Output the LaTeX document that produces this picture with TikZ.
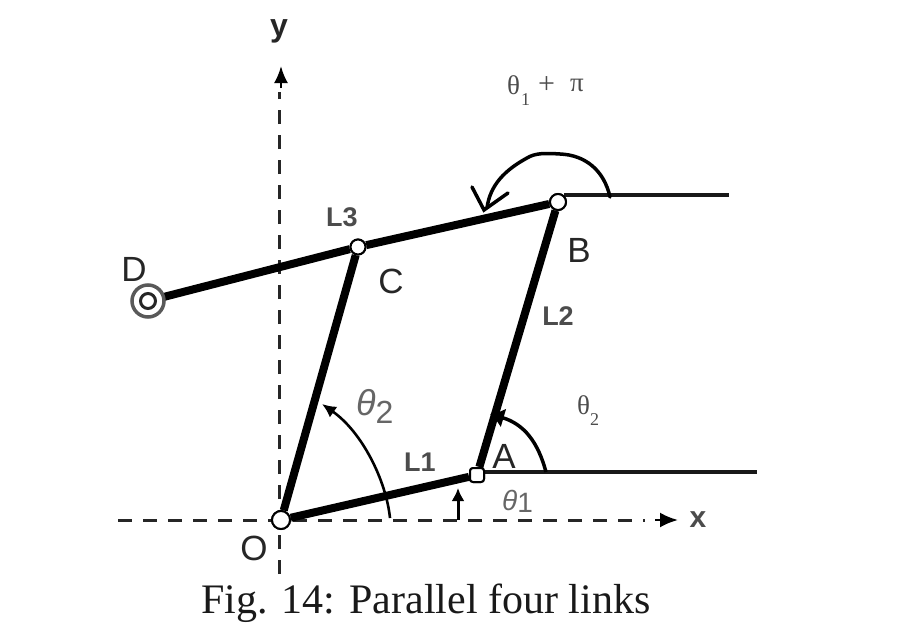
\documentclass[tikz,border=0pt]{standalone}
\usepackage{fontspec}
\setmainfont{Liberation Sans}
\newfontfamily\serifcap{Liberation Serif}
\usetikzlibrary{arrows.meta}
\tikzset{
  pin/.style={circle,draw=black,fill=white,line width=2pt,minimum size=11pt,inner sep=0pt},
  link/.style={line width=8pt,draw=black},
  axis/.style={line width=3pt,draw=black!85,dash pattern=on 14pt off 11pt},
  refline/.style={line width=3.5pt,draw=black!90},
  arc line/.style={line width=2.6pt,draw=black},
  lab/.style={inner sep=0pt,text=black!85,font=\fontsize{35}{37}\selectfont},
  smalllab/.style={inner sep=0pt,text=black!70,font=\fontsize{27}{29}\selectfont\bfseries},
  anglelab/.style={inner sep=0pt,text=black!60,font=\fontsize{36}{38}\selectfont\itshape},
  greek/.style={inner sep=0pt,text=black!70,font=\serifcap\fontsize{27}{29}\selectfont},
  greeksub/.style={inner sep=0pt,text=black!70,font=\serifcap\fontsize{18}{20}\selectfont},
}
\begin{document}
\begin{tikzpicture}[x=1pt,y=-1pt]
\useasboundingbox (0,0) rectangle (911,632);
% end points of the axes and reference lines
\coordinate (ytop) at (281,66);
\coordinate (ybot) at (279,574);
\coordinate (xleft) at (118,520);
\coordinate (xright) at (678,520);
\coordinate (Aend) at (757,472);
\coordinate (Bend) at (729,195);
% joints
\node[pin,minimum size=18pt] (O) at (281,520) {};
\node[pin,rectangle,rounded corners=3pt,minimum size=14pt] (A) at (477,475) {};
\node[pin,minimum size=16pt] (B) at (558,202) {};
\node[pin,minimum size=15pt] (C) at (358,247) {};
\node[circle,draw=black!70,fill=white,line width=3pt,minimum size=30pt,inner sep=0pt] (D) at (148,301) {};
% axes
\draw[axis] (ybot) -- (279,92);
\draw[axis] (xleft) -- (645,520);
\draw[line width=2.5pt,-{Latex[length=17pt,width=14pt]}] (281,88) -- (ytop);
\draw[line width=2.5pt,-{Latex[length=18pt,width=15pt]}] (655,520) -- (xright);
% reference lines
\draw[refline] (A.east |- Aend) -- (Aend);
\draw[refline] (B.north east |- Bend) -- (Bend);
% links
\draw[link] (O) -- (A);
\draw[link] (O) -- (C);
\draw[link] (A) -- (B);
\draw[link] (D) -- (C);
\draw[link] (C) -- (B);
% redraw joints above the links
\node[pin,minimum size=18pt] at (O) {};
\node[pin,rectangle,rounded corners=3pt,minimum size=14pt] at (A) {};
\node[pin,minimum size=16pt] at (B) {};
\node[pin,minimum size=15pt] at (C) {};
\node[circle,draw=black!65,fill=white,line width=3.5pt,minimum size=32pt,inner sep=0pt] at (D) {};
\node[circle,draw=black!85,fill=white,line width=3pt,minimum size=15pt,inner sep=0pt] at (D) {};
% angle arcs
\draw[arc line,-{Latex[length=14pt,width=13pt]}] (390,518) .. controls (386,480) and (362,432) .. (322,404);
\draw[line width=3pt,-{Latex[length=13pt,width=13pt]}] (458,520) -- (458,488);
\draw[line width=3.5pt,-{Latex[length=14pt,width=20pt]}] (546,472) .. controls (538,442) and (524,424) .. (490,414);
\draw[line width=3.5pt,line cap=round] (610,197) .. controls (604,170) and (585,155) .. (560,154) .. controls (545,153) and (535,153) .. (527,158) .. controls (505,170) and (490,185) .. (487,208);
\draw[line width=3.5pt,line cap=round] (472,187) -- (484,210) -- (508,193);
% labels
\node[lab] (ly) at (279,31) {\fontsize{32}{34}\selectfont\bfseries y};
\node[smalllab] (lx) at (698,520) {\fontsize{30}{32}\selectfont x};
\node[lab] (lO) at (254,548) {O};
\node[lab] (lA) at (504,456) {A};
\node[lab] (lB) at (579,250) {B};
\node[lab] (lC) at (391,281) {C};
\node[lab] (lD) at (134,269) {D};
\node[smalllab] (lL1) at (420,462) {L1};
\node[smalllab] (lL2) at (558,316) {L2};
\node[smalllab] (lL3) at (342,217) {L3};
\node[anglelab,anchor=west] (t2a) at (356,406) {θ\raisebox{-8pt}{\upshape\fontsize{32}{34}\selectfont 2}};
\node[anglelab,anchor=west,font=\fontsize{28}{30}\selectfont\itshape] (t1a) at (502,501) {θ\raisebox{-2pt}{\upshape 1}};
\node[greek,anchor=west] (t1) at (507,85) {θ};
\node[greeksub,anchor=west] (t1s) at (521,100) {1};
\node[greek,anchor=west] (t1p) at (538,85) {\fontsize{30}{30}\selectfont +};
\node[greek,anchor=west] (t1pi) at (570,85) {π};
\node[greek,anchor=west] (t2) at (577,405) {θ};
\node[greeksub,anchor=west] (t2s) at (590,420) {2};
\node[inner sep=0pt,text=black!90,font=\serifcap\fontsize{42}{44}\selectfont] (cap) at (426,603) {Fig. 14: Parallel four links};
\end{tikzpicture}
\end{document}
